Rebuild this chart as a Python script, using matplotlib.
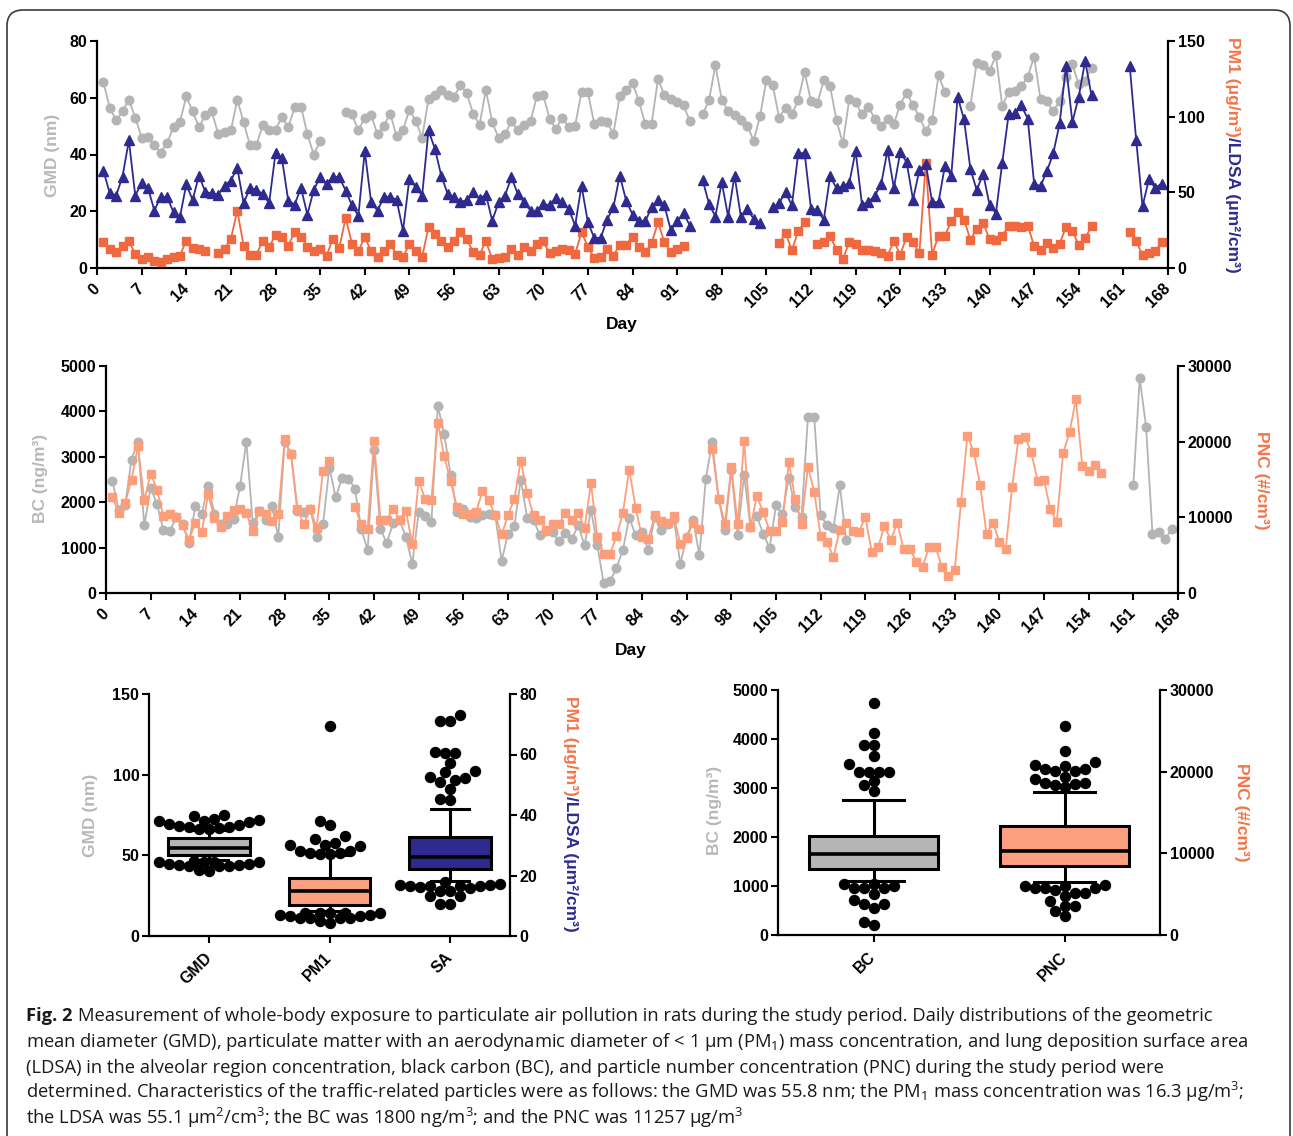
import numpy as np
import matplotlib.pyplot as plt
from matplotlib.patches import FancyBboxPatch
from matplotlib.transforms import IdentityTransform

plt.rcParams['font.family'] = ['Liberation Sans', 'DejaVu Sans']
plt.rcParams['font.weight'] = 'bold'
plt.rcParams['mathtext.fontset'] = 'custom'
plt.rcParams['mathtext.rm'] = 'Open Sans:weight=normal'
plt.rcParams['mathtext.it'] = 'Open Sans:italic:weight=normal'
plt.rcParams['mathtext.bf'] = 'Open Sans:bold'

nan = np.nan
W, H = 1293, 1136

# ---------------- data (days 1..167) ----------------
days = np.arange(1, 168)

gmd = [65.5, 56.5, 52, 55.2, 59.3, 53, 45.9, 46.1, 43.2, 40.7,          # 1-10
       44.1, 49.6, 51.3, 60.5, 55.2, 49.6, 53.8, 55.2, 47.3, 47.9,      # 11-20
       48.5, 59.3, 51.4, 43.2, 43.2, 50.5, 48.5, 48.7, 53.2, 49.6,      # 21-30
       56.7, 56.9, 47.1, 40, 44.7, nan, nan, nan, 54.9, 54.1,           # 31-40
       48.5, 53, 53.8, 47.1, 50.2, 54.4, 46.4, 48.5, 55.8, 51.8,        # 41-50
       45.9, 59.6, 60.8, 62.8, 61.1, 60.2, 64.6, 61.6, 54.4, 50.5,      # 51-60
       62.8, 51.4, 45.8, 47.1, 51.8, 48.5, 50.5, 51.8, 60.5, 60.8,      # 61-70
       52.6, 49, 53, 49.6, 50.2, 62, 62, 50.8, 51.8, 51.4,              # 71-80
       47.3, 60.5, 62.8, 65.2, 58.8, 50.8, 50.8, 66.7, 60.8, 59.6,      # 81-90
       58.5, 57.3, 51.8, nan, 54.1, 59.1, 71.4, 59.3, 55.5, 53.8,       # 91-100
       52.2, 50.2, 44.9, 53.4, 66.1, 64.4, 53, 56.5, 54.1, 59.3,        # 101-110
       69.1, 58.7, 58.1, 66.1, 64, 52, 43.9, 59.4, 58.5, 54.1,          # 111-120
       56.8, 52.6, 50.2, 52.4, 50.9, 57.6, 61.8, 57.3, 53.3, 48.2,      # 121-130
       52.1, 67.9, 62, nan, nan, nan, 57.1, 72.4, 71.4, 69.4,           # 131-140
       74.9, 57.1, 62, 62.4, 64.1, 67.4, 74.5, 59.4, 58.8, 55.3,        # 141-150
       58.8, 67.4, 71.8, 64.7, 65.9, 70.6, nan, nan, nan, nan,          # 151-160
       nan, nan, nan, nan, nan, nan, nan]                               # 161-167

ldsa = [64.4, 49.4, 47.9, 60.4, 84.3, 47.9, 56, 52.9, 37.9, 47.2,
        46.8, 36.8, 33.5, 55.2, 45, 61.1, 50.1, 49.4, 48.5, 54.5,
        57.8, 66.2, 42.8, 52.9, 51.6, 49, 42.8, 75.9, 72.6, 44.6,
        41.9, 52.9, 35.3, 51.6, 60, 55.2, 60.4, 60, 51.2, 41.3,
        34.6, 77.2, 43.5, 37.9, 46.8, 47.2, 45, 24.7, 58.9, 53.4,
        47.9, 90.9, 78.8, 61.1, 49, 46.8, 43.7, 44.8, 50.1, 45.7,
        48.5, 31.3, 43.5, 47.9, 60, 49, 43.5, 37.9, 37.5, 42.4,
        41.3, 46.3, 43.5, 39, 28, 54.5, 30.2, 19.9, 19.9, 31.8,
        40.1, 61.1, 44.6, 35.3, 31.3, 30.9, 40.1, 45, 41.3, 25.1,
        30.9, 36.2, 28, nan, 58.2, 42.4, 34, 56.7, 34, 61.1,
        34, 39, 32.4, 29.6, nan, 40.1, 42.8, 50.1, 41.3, 75.9,
        75.9, 39, 38.4, 31.8, 60.7, 52.6, 54, 56.3, 77.2, 41.9,
        43.5, 47.9, 55.2, 77.9, 52.9, 76.5, 69.9, 45.2, 64.6, 69,
        43.5, 43.5, 67.3, 61.1, 113.2, 98.2, 65.5, 51.4, 62.4, 41.9,
        36, 69.5, 101.5, 102.1, 107.4, 98.6, 55.8, 54, 64, 75.7,
        95.5, 133.5, 96.4, 113.2, 136.8, 114, nan, nan, nan, nan,
        nan, 133.5, 84.9, 40.8, 58.5, 52.9, 55.8]

pm1 = [17, 12.6, 10.4, 14.8, 17.6, 9.3, 6, 7.5, 4.9, 4.2,
       6, 7.5, 8.2, 18.1, 13.2, 12.6, 11, nan, 9.7, 12.6,
       19.2, 37.9, 14.8, 8.8, 8.8, 18.1, 13.7, 22.1, 20.3, 14.8,
       23.6, 20.7, 14.1, 11, 12.6, 8.2, 19.2, 13.2, 33.1, 15.9,
       11, 20.7, 11, 7.1, 11, 15.9, 8.8, 7.1, 15.9, 11,
       7.5, 26.9, 22.5, 18.1, 13.7, 18.1, 24, 19.2, 10.4, 8.8,
       17.6, 6, 6.6, 7.5, 12.6, 8.8, 14.1, 11, 15.9, 17.6,
       9.7, 11, 12.6, 11.9, 9.3, 23.6, 14.1, 6.6, 7.5, 12.6,
       8.2, 15.4, 15.4, 20.7, 14.1, 10.4, 16.3, 30.2, 17, 10.4,
       12.6, 14.8, nan, nan, nan, nan, nan, nan, nan, nan,
       nan, nan, nan, nan, nan, nan, 16.3, 22.9, 11.9, 24.3,
       30.2, nan, 15.9, 17, 21, 12, 6, 17, 16.1, 12.1,
       11.7, 11, 9.9, 8.2, 17.6, 8.8, 20.5, 17, 9.9, 69.5,
       8.8, 21.4, 21.4, 30.9, 36.8, 32, 18.8, 25.8, 29.8, 19.2,
       18.3, 21.4, 27.6, 28, 27.1, 28, 14.6, 11.7, 16.5, 13.2,
       16.1, 27.1, 24.3, 15.4, 19.9, 27.6, nan, nan, nan, nan,
       nan, 23.6, 17.6, 8.8, 9.9, 11, 17]

bc = [2470, 1830, 1930, 2940, 3330, 1490, 2320, 1950, 1380, 1360,
      1670, 1520, 1100, 1910, 1750, 2350, 1750, 1510, 1510, 1640,
      2350, 3330, 1540, 1800, 1600, 1910, 1230, 3330, 3060, 1800,
      1780, 1860, 1230, 1510, 2760, 2110, 2540, 2520, 2300, 1410,
      950, 3140, 1410, 1100, 1540, 1600, 1240, 640, 1780, 1690,
      1560, 4120, 3500, 2610, 1780, 1860, 1670, 1660, 1710, 1750,
      1710, 710, 1300, 1470, 2500, 1660, 1610, 1270, 1360, 1340,
      1140, 1320, 1190, 1490, 1050, 1830, 1050, 210, 260, 550,
      950, 1660, 1270, 1340, 950, 1670, 1380, 1520, 1640, 640,
      1230, 1610, 830, 2520, 3330, 2080, 1380, 2720, 1270, 2610,
      1450, 1690, 1300, 990, 1930, 1730, 2540, 1890, 1670, 3870,
      3870, 1710, 1490, 1440, 2370, 1170, nan, nan, nan, nan,
      nan, nan, nan, nan, nan, nan, nan, nan, nan, nan,
      nan, nan, nan, nan, nan, nan, nan, nan, nan, nan,
      nan, nan, nan, nan, nan, nan, nan, nan, nan, nan,
      nan, nan, nan, nan, nan, nan, nan, nan, nan, nan,
      2370, 4730, 3660, 1310, 1350, 1180, 1420]

pnc = [12690, 10560, 11890, 14980, 19400, 12240, 15780, 13660, 10120, 10390,
       10030, 8930, 7030, 9240, 8040, 13040, 9950, 8710, 10120, 11010,
       11140, 10560, 8180, 10830, 10390, 9500, 10390, 20290, 18340, 11140,
       9060, 11140, 8620, 16130, 17460, nan, nan, nan, 11360, 9060,
       8490, 20070, 9680, 9680, 11140, 9680, 10830, 6500, 14810, 12460,
       12330, 22500, 18080, 14810, 11360, 10390, 10480, 10700, 13480, 12240,
       10250, 7740, 10250, 12460, 17460, 13220, 10250, 9680, 8350, 9150,
       9150, 10560, 9680, 10560, 8620, 14540, 7380, 5170, 5170, 7470,
       10560, 16310, 11270, 7380, 7160, 10250, 9500, 9240, 10120, 6500,
       7290, 9240, 8490, nan, 19090, 12460, 9150, 16660, 9060, 20110,
       8710, 12770, 10700, 8180, 8180, 9370, 17330, 12460, 9150, 16660,
       13350, 7470, 6700, 4770, 8380, 9200, 8230, 8100, 9990, 5480,
       6040, 8850, 7010, 9290, 5780, 5780, 4160, 3500, 6130, 6040,
       3500, 2280, 2980, 12050, 20810, 18620, 14240, 7800, 9290, 6790,
       5780, 14020, 20370, 20670, 18620, 14800, 14890, 11040, 9420, 18480,
       21240, 25620, 16730, 16120, 16860, 15860, nan, nan, nan, nan,
       nan, nan, nan, nan, nan, nan, nan]

for s in (gmd, ldsa, pm1, bc, pnc):
    assert len(s) == len(days)

gmd, ldsa, pm1, bc, pnc = [np.array(s, float) for s in (gmd, ldsa, pm1, bc, pnc)]

day_ticks = np.arange(0, 169, 7)

# colours
GRAY = '#b4b4b4'
NAVY = '#2e2a8f'
RED = '#f0683f'
SALMON = '#fd9e7b'
LABEL_GRAY = '#b8b8b8'
LABEL_OR = '#f37448'

fig = plt.figure(figsize=(W / 100, H / 100), dpi=100)


def box(l, t, r, b):
    return [l / W, 1 - b / H, (r - l) / W, (b - t) / H]


def style(ax, right=False):
    for sp in ax.spines.values():
        sp.set_linewidth(1.6)
    ax.spines['top'].set_visible(False)
    if right:
        ax.spines['left'].set_visible(False)
        ax.spines['bottom'].set_visible(False)
    else:
        ax.spines['right'].set_visible(False)
    ax.tick_params(direction='out', length=5, width=1.5, labelsize=11.5, pad=2)


def ptext(x, y, s, **kw):
    return fig.text(x, H - y, s, transform=IdentityTransform(), **kw)


def vtext(xc, yc, parts, size):
    # multicolour label reading top to bottom, centred at (xc, yc) image px
    r = fig.canvas.get_renderer()
    arts = [fig.text(0, 0, s, color=c, fontsize=size, fontweight='bold', rotation=270,
                     rotation_mode='anchor', ha='left', va='baseline',
                     transform=IdentityTransform()) for s, c in parts]
    lens = [a.get_window_extent(r).height for a in arts]
    y = (H - yc) + sum(lens) / 2
    for a, L in zip(arts, lens):
        a.set_position((xc - 0.36 * size * 100 / 72, y))
        y -= L


def day_axis(ax):
    ax.set_xlim(0, 168)
    ax.set_xticks(day_ticks)
    ax.set_xticklabels([str(d) for d in day_ticks], rotation=45, ha='right', va='center',
                       rotation_mode='anchor')
    ax.tick_params(axis='x', pad=8)


# ---------------- top panel ----------------
ax1 = fig.add_axes(box(97, 41, 1168, 268))
ax1b = ax1.twinx()
ax1.plot(days, gmd, '-o', color=GRAY, ms=6.2, lw=1.3, mec=GRAY)
ax1b.plot(days, pm1, '-s', color=RED, ms=6, lw=1.3)
ax1b.plot(days, ldsa, '-^', color=NAVY, ms=7, lw=1.3)
ax1.set_ylim(0, 80)
ax1.set_yticks([0, 20, 40, 60, 80])
ax1b.set_ylim(0, 150)
ax1b.set_yticks([0, 50, 100, 150])
style(ax1)
style(ax1b, right=True)
day_axis(ax1)
ptext(622, 325, 'Day', fontsize=12.5, ha='center', va='center')
ptext(52, 155, 'GMD (nm)', fontsize=12.5, color=LABEL_GRAY, rotation=90, ha='center', va='center')
vtext(1234, 155, [('PM1 (\u03bcg/m\u00b3)', LABEL_OR), ('/LDSA (\u03bcm\u00b2/cm\u00b3)', NAVY)], 12.5)

# ---------------- middle panel ----------------
ax2 = fig.add_axes(box(106, 366, 1178, 593))
ax2b = ax2.twinx()
ax2.plot(days, bc, '-o', color=GRAY, ms=6.2, lw=1.3)
ax2b.plot(days, pnc, '-s', color=SALMON, ms=6.4, lw=1.3)
ax2.set_ylim(0, 5000)
ax2.set_yticks(np.arange(0, 5001, 1000))
ax2b.set_ylim(0, 30000)
ax2b.set_yticks([0, 10000, 20000, 30000])
style(ax2)
style(ax2b, right=True)
day_axis(ax2)
ptext(631, 651, 'Day', fontsize=12.5, ha='center', va='center')
ptext(40, 478, 'BC (ng/m\u00b3)', fontsize=12.5, color=LABEL_GRAY, rotation=90, ha='center', va='center')
ptext(1262, 480, 'PNC (#/cm\u00b3)', fontsize=12.5, color=LABEL_OR, rotation=270, ha='center', va='center')


# ---------------- box plots ----------------
def swarm(ax, pos, vals, ms=7.2, spread=50):
    # spread overlapping outlier dots sideways (deterministic beeswarm)
    tr = ax.transData
    d = ms * 100 / 72
    per_px = 1.0 / (tr.transform((1, 0))[0] - tr.transform((0, 0))[0])
    cands = np.arange(-spread, spread + 0.1, d / 2)
    cands = cands[np.argsort(np.abs(cands), kind='stable')]
    placed = []
    xs, ys = [], []
    for v in np.sort(vals):
        ypx = tr.transform((pos, v))[1]
        best, bestd = 0, -1
        for c in cands:
            md = min([np.hypot(c - px, ypx - py) for px, py in placed], default=1e9)
            if md >= d * 0.98:
                best = c
                break
            if md > bestd:
                best, bestd = c, md
        placed.append((best, ypx))
        xs.append(pos + best * per_px)
        ys.append(v)
    ax.plot(xs, ys, 'o', color='k', ms=ms, mec='k', clip_on=False, zorder=5)


def boxes(ax, vals, pos, color):
    v = vals[~np.isnan(vals)]
    ax.boxplot([v], positions=[pos], widths=0.68, whis=(10, 90), showfliers=False,
               patch_artist=True, capwidths=0.32, manage_ticks=False,
               boxprops=dict(facecolor=color, edgecolor='k', linewidth=2.2),
               medianprops=dict(color='k', linewidth=2.6),
               whiskerprops=dict(color='k', linewidth=2.2),
               capprops=dict(color='k', linewidth=2.2))
    lo, hi = np.percentile(v, [10, 90])
    fl = v[(v < lo) | (v > hi)]
    swarm(ax, pos, fl)


ax3 = fig.add_axes(box(149, 694, 510, 936))
ax3b = ax3.twinx()
for a in (ax3, ax3b):
    a.set_xlim(-0.5, 2.5)
ax3.set_ylim(0, 150)
ax3.set_yticks([0, 50, 100, 150])
ax3b.set_ylim(0, 80)
ax3b.set_yticks([0, 20, 40, 60, 80])
style(ax3)
style(ax3b, right=True)
boxes(ax3, gmd, 0, '#b5b5b5')
boxes(ax3b, pm1, 1, '#fda080')
boxes(ax3, ldsa, 2, NAVY)
ax3.set_xticks([0, 1, 2])
ax3.set_xticklabels(['GMD', 'PM1', 'SA'], rotation=45, ha='right', va='center', rotation_mode='anchor')
ax3.tick_params(axis='x', pad=9)
ptext(90, 815, 'GMD (nm)', fontsize=12.5, color=LABEL_GRAY, rotation=90, ha='center', va='center')
vtext(572, 814, [('PM1 (\u03bcg/m\u00b3)', LABEL_OR), ('/LDSA (\u03bcm\u00b2/cm\u00b3)', NAVY)], 12.5)

ax4 = fig.add_axes(box(778, 690, 1160, 935))
ax4b = ax4.twinx()
for a in (ax4, ax4b):
    a.set_xlim(-0.5, 1.5)
ax4.set_ylim(0, 5000)
ax4.set_yticks(np.arange(0, 5001, 1000))
ax4b.set_ylim(0, 30000)
ax4b.set_yticks([0, 10000, 20000, 30000])
style(ax4)
style(ax4b, right=True)
boxes(ax4, bc, 0, '#b5b5b5')
boxes(ax4b, pnc, 1, '#fda080')
ax4.set_xticks([0, 1])
ax4.set_xticklabels(['BC', 'PNC'], rotation=45, ha='right', va='center', rotation_mode='anchor')
ax4.tick_params(axis='x', pad=9)
ptext(714, 810, 'BC (ng/m\u00b3)', fontsize=12.5, color=LABEL_GRAY, rotation=90, ha='center', va='center')
ptext(1241, 812, 'PNC (#/cm\u00b3)', fontsize=12.5, color=LABEL_OR, rotation=270, ha='center', va='center')

# ---------------- frame and caption ----------------
frame = FancyBboxPatch((7, -40), 1283, H - 10 + 40, boxstyle='round,pad=0,rounding_size=16',
                       transform=IdentityTransform(), fill=False, edgecolor='#3a3a3a', lw=1.2)
fig.add_artist(frame)

CS = 13.25
cap = dict(fontsize=CS, fontweight='normal', family='Open Sans', va='baseline', color='#1a1a1a')
r = fig.canvas.get_renderer()
t0 = ptext(26, 1021, 'Fig. 2', fontsize=CS, fontweight='bold', family='Open Sans', va='baseline', color='#1a1a1a')
x1 = t0.get_window_extent(r).x1
fig.text(x1 + 5, H - 1021, 'Measurement of whole-body exposure to particulate air pollution in rats during the study period. '
         'Daily distributions of the geometric', transform=IdentityTransform(), **cap)
lines = ['mean diameter (GMD), particulate matter with an aerodynamic diameter of < 1 \u03bcm (PM$_1$) mass concentration, '
         'and lung deposition surface area',
         '(LDSA) in the alveolar region concentration, black carbon (BC), and particle number concentration (PNC) '
         'during the study period were',
         'determined. Characteristics of the traffic-related particles were as follows: the GMD was 55.8 nm; the PM$_1$ '
         'mass concentration was 16.3 \u03bcg/m$^3$;',
         'the LDSA was 55.1 \u03bcm$^2$/cm$^3$; the BC was 1800 ng/m$^3$; and the PNC was 11257 \u03bcg/m$^3$']
for i, s in enumerate(lines):
    ptext(26, 1021 + 25.8 * (i + 1), s, **cap)

fig.savefig('out.png', dpi=100)
